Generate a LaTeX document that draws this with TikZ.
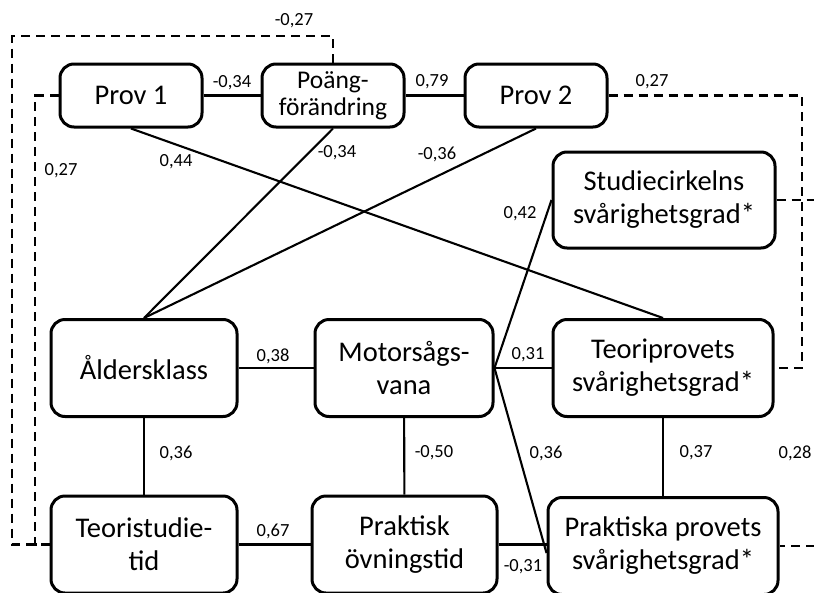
\documentclass[tikz,border=0pt]{standalone}
\usepackage{fontspec}
\setmainfont{Carlito}
\begin{document}
\begin{tikzpicture}[x=1pt,y=-1pt,
  box/.style={draw, line width=3pt, rounded corners=14pt, align=center, inner sep=0pt,
    font=\fontsize{28.5}{33}\selectfont},
  lbl/.style={font=\fontsize{18.5}{20}\selectfont, inner sep=0pt},
  conn/.style={line width=2.1pt},
  dconn/.style={line width=2.1pt, dash pattern=on 9pt off 6pt}]
\useasboundingbox (0,0) rectangle (814,592);
% nodes
\node[box, minimum width=142pt, minimum height=63pt] (p1) at (131,95.5) {Prov 1};
\node[box, minimum width=142pt, minimum height=63pt, font=\fontsize{25.5}{27}\selectfont] (pf) at (333,95.5) {Poäng-\\förändring};
\node[box, minimum width=142pt, minimum height=63pt] (p2) at (536,95.5) {Prov 2};
\node[box, minimum width=222pt, minimum height=96pt] (sc) at (664,200) {Studiecirkelns\\svårighetsgrad*};
\node[box, minimum width=186pt, minimum height=97pt] (ak) at (144,368) {Åldersklass};
\node[box, minimum width=178pt, minimum height=97pt] (mv) at (404,368) {Motorsågs-\\vana};
\node[box, minimum width=220pt, minimum height=97pt] (tp) at (663,368) {Teoriprovets\\svårighetsgrad*};
\node[box, minimum width=186pt, minimum height=97pt] (ts) at (144,544.5) {Teoristudie-\\tid};
\node[box, minimum width=185pt, minimum height=97pt] (po) at (404.5,544.5) {Praktisk\\övningstid};
\node[box, minimum width=230pt, minimum height=97pt] (pp) at (663,546) {Praktiska provets\\svårighetsgrad*};
% coordinates for dashed routes
\coordinate (d1) at (12,36);
\coordinate (d2) at (35,544.5);
\coordinate (d3) at (802,368);
\coordinate (d4) at (840,370);
% solid connectors
\draw[conn] (p1) -- (pf);
\draw[conn] (pf) -- (p2);
\draw[conn] (p1.south) -- (tp.north);
\draw[conn] (pf.south) -- (ak.north);
\draw[conn] (p2.south) -- (ak.north);
\draw[conn] (sc.west) -- (mv.east);
\draw[conn] (mv.east) -- (tp.west);
\draw[conn] (mv.east) -- ([yshift=-7pt]pp.west);
\draw[conn] (ak) -- (mv);
\draw[conn] (ak) -- (ts);
\draw[conn] (mv) -- (po);
\draw[conn] (tp) -- (pp);
\draw[conn] (ts) -- (po);
\draw[conn] (po.east) -- (po.east -| pp.west);
% dashed connectors
\draw[dconn] (pf.north) |- (d1) |- (ts.west);
\draw[dconn] (p1.west) -| (d2) -- (ts.west);
\draw[dconn] (p2.east) -| (d3) -- (tp.east);
\draw[dconn] (sc.east) -| (d4) |- (pp.east);
% labels
\node[lbl] (l1) at (294,21) {-0,27};
\node[lbl] (l2) at (61,171) {0,27};
\node[lbl] (l3) at (232,83) {-0,34};
\node[lbl] (l4) at (432,82) {0,79};
\node[lbl] (l5) at (652,82) {0,27};
\node[lbl] (l6) at (176,162) {0,44};
\node[lbl] (l7) at (337,153) {-0,34};
\node[lbl] (l8) at (437,154) {-0,36};
\node[lbl] (l9) at (520,214) {0,42};
\node[lbl] (l10) at (273,356) {0,38};
\node[lbl] (l11) at (528,355) {0,31};
\node[lbl] (l12) at (176,453) {0,36};
\node[lbl] (l13) at (434,453) {-0,50};
\node[lbl] (l14) at (546,453) {0,36};
\node[lbl] (l15) at (696,453) {0,37};
\node[lbl] (l16) at (795,453) {0,28};
\node[lbl] (l17) at (273,531) {0,67};
\node[lbl] (l18) at (523,567) {-0,31};
\end{tikzpicture}
\end{document}
